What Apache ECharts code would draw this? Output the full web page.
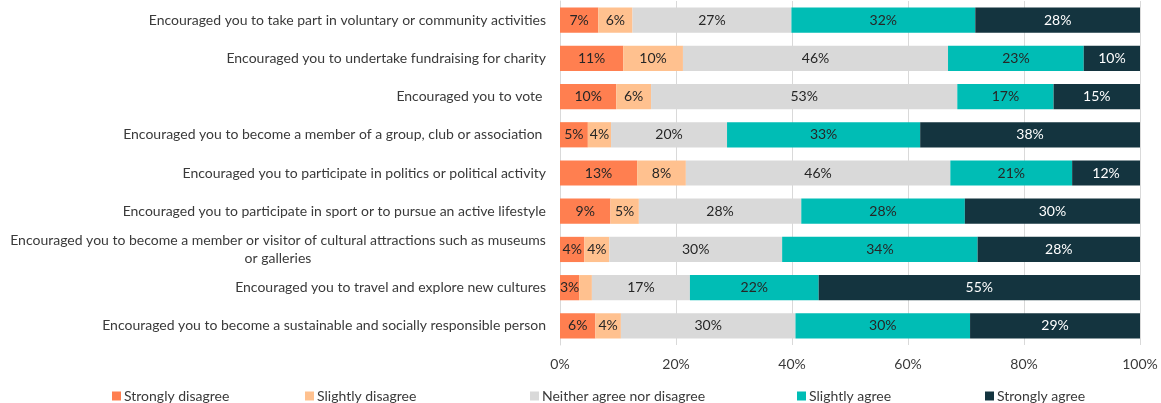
<!DOCTYPE html>
<html>
<head>
<meta charset="utf-8">
<script src="https://cdn.jsdelivr.net/npm/echarts@6/dist/echarts.min.js"></script>
<style>
  html, body { margin: 0; padding: 0; background: #fff; }
  #chart { width: 1161px; height: 403px; }
</style>
</head>
<body>
<div id="chart"></div>
<script>
var categories = [
  'Encouraged you to take part in voluntary or community activities',
  'Encouraged you to undertake fundraising for charity',
  'Encouraged you to vote ',
  'Encouraged you to become a member of a group, club or association ',
  'Encouraged you to participate in politics or political activity',
  'Encouraged you to participate in sport or to pursue an active lifestyle',
  'Encouraged you to become a member or visitor of cultural attractions such as museums\nor galleries',
  'Encouraged you to travel and explore new cultures',
  'Encouraged you to become a sustainable and socially responsible person'
];

var seriesNames = ['Strongly disagree', 'Slightly disagree', 'Neither agree nor disagree', 'Slightly agree', 'Strongly agree'];
var colors = ['#FF7F50', '#FFC18F', '#D9D9D9', '#00BDB5', '#14343F'];

var stronglyDisagree = [6.6, 10.9, 9.7, 4.8, 13.3, 8.7, 4.2, 3.3, 6.1];
var slightlyDisagree = [5.9, 10.3, 6.0, 4.0, 8.4, 4.9, 4.3, 2.2, 4.4];
var neither          = [27.4, 45.7, 52.8, 20.0, 45.6, 28.0, 29.8, 16.9, 30.1];
var slightlyAgree    = [31.7, 23.4, 16.6, 33.3, 21.0, 28.2, 33.7, 22.2, 30.1];
var stronglyAgree    = [28.4, 9.7, 14.9, 37.9, 11.7, 30.2, 28.0, 55.4, 29.3];

var xTicks = [0, 20, 40, 60, 80, 100];

var FONT = 'Lato';
var FS = 14;
var textColor = '#3a3a3a';

// measure text to centre the 2nd line of the wrapped category label
var cv = document.createElement('canvas').getContext('2d');
cv.font = FS + 'px ' + FONT;

var allData = [stronglyDisagree, slightlyDisagree, neither, slightlyAgree, stronglyAgree];

var series = allData.map(function (d, i) {
  return {
    name: seriesNames[i],
    type: 'bar',
    stack: 'total',
    data: d,
    barCategoryGap: '34%',
    itemStyle: { color: colors[i] },
    label: {
      show: true,
      position: 'inside',
      fontFamily: FONT,
      fontSize: FS,
      color: i === 4 ? '#ffffff' : '#262626',
      formatter: function (p) {
        return p.value < 3 ? '' : Math.round(p.value) + '%';
      }
    }
  };
});

// one legend per item so the spacing follows the reference
var legendLeft = [107, 300, 525, 792, 980];
var legends = seriesNames.map(function (n, i) {
  return {
    data: [n],
    left: legendLeft[i],
    top: 384,
    itemWidth: 9,
    itemHeight: 9,
    icon: 'rect',
    itemGap: 0,
    textStyle: { fontFamily: FONT, fontSize: FS, color: textColor, padding: [0, 0, 0, -2] }
  };
});

var chart = echarts.init(document.getElementById('chart'), null, { renderer: 'canvas' });
chart.setOption({
  animation: false,
  textStyle: { fontFamily: FONT },
  grid: { left: 560, right: 21, top: 1, height: 344 },
  legend: legends,
  xAxis: {
    type: 'value',
    min: 0,
    max: 100,
    interval: 20,
    axisLine: { show: false },
    axisTick: { show: false },
    splitLine: { lineStyle: { color: '#D9D9D9', width: 1 } },
    axisLabel: {
      fontFamily: FONT, fontSize: FS, color: textColor, margin: 12,
      formatter: function (v) { return xTicks.indexOf(v) >= 0 ? v + '%' : ''; }
    }
  },
  yAxis: {
    type: 'category',
    inverse: true,
    data: categories,
    axisLine: { show: true, lineStyle: { color: '#D9D9D9' } },
    axisTick: { show: false },
    axisLabel: {
      fontFamily: FONT, fontSize: FS, color: textColor, margin: 14, lineHeight: 18,
      formatter: function (v) {
        if (v.indexOf('\n') < 0) return v;
        var parts = v.split('\n');
        return '{c|' + parts[0] + '}\n{c|' + parts[1] + '}';
      },
      rich: {
        c: {
          fontFamily: FONT, fontSize: FS, color: textColor, lineHeight: 18, align: 'center',
          width: Math.ceil(cv.measureText('Encouraged you to become a member or visitor of cultural attractions such as museums').width)
        }
      }
    }
  },
  series: series
});
</script>
</body>
</html>
